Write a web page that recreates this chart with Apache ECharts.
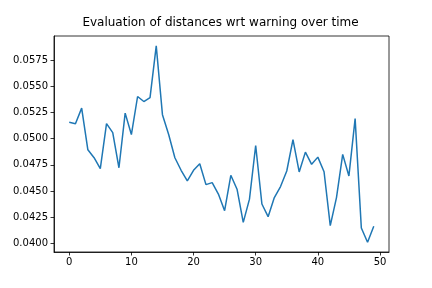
<!DOCTYPE html>
<html>
<head>
<meta charset="utf-8">
<script src="https://cdn.jsdelivr.net/npm/echarts@6/dist/echarts.min.js"></script>
<style>html,body{margin:0;padding:0;background:#fff;}#c{width:432px;height:288px;}</style>
</head>
<body>
<div id="c"></div>
<script>
var titleText = 'Evaluation of distances wrt warning over time';
var values = [0.05157, 0.05144, 0.05293, 0.04894, 0.04818, 0.04713, 0.05144, 0.05059, 0.04722, 0.05245,
  0.05040, 0.05404, 0.05356, 0.05394, 0.05889, 0.05230, 0.05040, 0.04818, 0.04698, 0.04596,
  0.04698, 0.04760, 0.04561, 0.04580, 0.04470, 0.04311, 0.04650, 0.04517, 0.04200, 0.04422,
  0.04935, 0.04375, 0.04254, 0.04437, 0.04542, 0.04691, 0.04992, 0.04682, 0.04872, 0.04755,
  0.04824, 0.04684, 0.04168, 0.04437, 0.04850, 0.04644, 0.05192, 0.04146, 0.04010, 0.04162];
var xTicks = [0, 10, 20, 30, 40, 50];
var yTicks = [0.0400, 0.0425, 0.0450, 0.0475, 0.0500, 0.0525, 0.0550, 0.0575];

var n = values.length;
var vmin = Math.min.apply(null, values), vmax = Math.max.apply(null, values);
var ym = (vmax - vmin) * 0.05;
var xm = (n - 1) * 0.05;

var chart = echarts.init(document.getElementById('c'), null, {renderer: 'canvas'});
var font = 'DejaVu Sans';
chart.setOption({
  animation: false,
  backgroundColor: '#fff',
  graphic: [{
    type: 'text', x: 220.5, y: 17,
    style: {text: titleText, font: '12px "DejaVu Sans"', fill: '#000', align: 'center', verticalAlign: 'top'}
  }],
  grid: {left: 54, right: 43, top: 36, bottom: 36, show: true, borderColor: '#000', borderWidth: 0.8, backgroundColor: 'transparent'},
  xAxis: {
    type: 'value', min: -xm, max: (n - 1) + xm,
    axisLine: {show: true, onZero: false, lineStyle: {color: '#000', width: 0.8}},
    axisTick: {show: true, length: 3.5, inside: false, customValues: xTicks, lineStyle: {color: '#000', width: 0.8}},
    axisLabel: {customValues: xTicks, margin: 5, fontFamily: font, fontSize: 10, color: '#000'},
    splitLine: {show: false}
  },
  yAxis: {
    type: 'value', min: vmin - ym, max: vmax + ym,
    axisLine: {show: true, onZero: false, lineStyle: {color: '#000', width: 0.8}},
    axisTick: {show: true, length: 3.5, inside: false, customValues: yTicks, lineStyle: {color: '#000', width: 0.8}},
    axisLabel: {customValues: yTicks, margin: 6, fontFamily: font, fontSize: 10, color: '#000',
      formatter: function (v) { return v.toFixed(4); }},
    splitLine: {show: false}
  },
  series: [{
    type: 'line', showSymbol: false, symbol: 'none',
    data: values.map(function (v, i) { return [i, v]; }),
    lineStyle: {color: '#1f77b4', width: 1.5}
  }]
});
</script>
</body>
</html>
